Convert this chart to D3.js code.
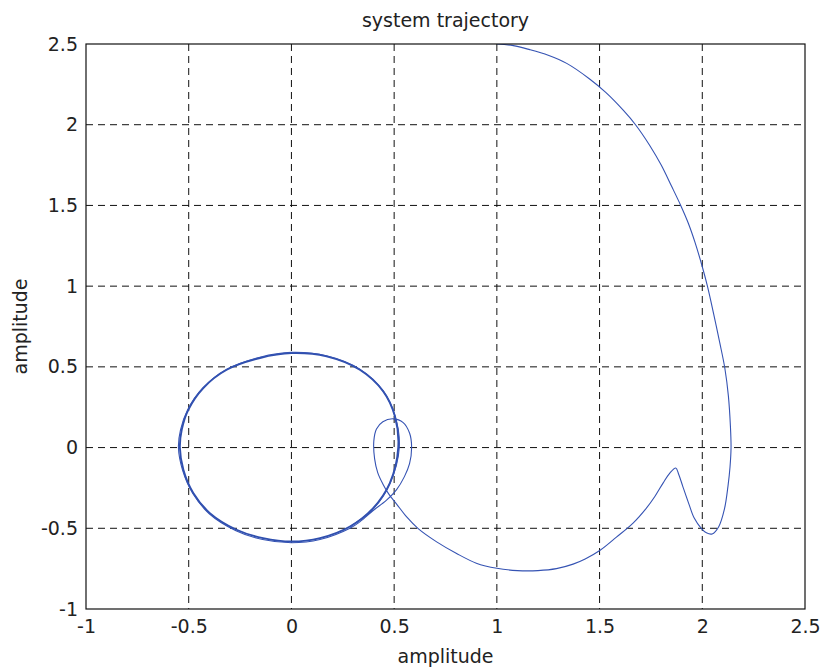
<!DOCTYPE html>
<html>
<head>
<meta charset="utf-8">
<script src="https://cdn.jsdelivr.net/npm/d3@7"></script>
<style>
  body { margin: 0; background: #fff; }
  text { font-family: "DejaVu Sans", sans-serif; fill: #222; }
</style>
</head>
<body>
<div id="chart"></div>
<script>
// chart size and plot box
var width = 823,
    height = 671,
    margin = { top: 44, right: 18, bottom: 62, left: 86 }

var xTicks = [-1, -0.5, 0, 0.5, 1, 1.5, 2, 2.5]
var yTicks = [-1, -0.5, 0, 0.5, 1, 1.5, 2, 2.5]
var xTickLabels = ['-1', '-0.5', '0', '0.5', '1', '1.5', '2', '2.5']
var yTickLabels = ['-1', '-0.5', '0', '0.5', '1', '1.5', '2', '2.5']

// trajectory: [x, y]
var trajectory = [
  [1.0, 2.5], [1.08, 2.49], [1.16, 2.465], [1.25, 2.43], [1.34, 2.38],
  [1.45, 2.285], [1.53, 2.2], [1.615, 2.09], [1.675, 2.0], [1.745, 1.87],
  [1.8, 1.75], [1.85, 1.62], [1.895, 1.5], [1.932, 1.39], [1.965, 1.27],
  [2.0, 1.12], [2.025, 1.0], [2.055, 0.83], [2.085, 0.65], [2.11, 0.49],
  [2.127, 0.32], [2.137, 0.13], [2.14, 0.0], [2.135, -0.12], [2.125, -0.24],
  [2.108, -0.38], [2.08, -0.49], [2.048, -0.535], [2.02, -0.528], [1.995, -0.5],
  [1.96, -0.435], [1.935, -0.35], [1.905, -0.24], [1.885, -0.165], [1.871, -0.127],
  [1.842, -0.158], [1.809, -0.22], [1.769, -0.303], [1.728, -0.375], [1.663, -0.468],
  [1.582, -0.555], [1.501, -0.638], [1.43, -0.69], [1.371, -0.722], [1.29, -0.75],
  [1.2, -0.762], [1.1, -0.762], [1.0, -0.748], [0.9, -0.716], [0.804, -0.656],
  [0.707, -0.584], [0.617, -0.502], [0.561, -0.43], [0.512, -0.35], [0.475, -0.29],
  [0.445, -0.225], [0.42, -0.155], [0.405, -0.07], [0.401, 0.04], [0.414, 0.115],
  [0.445, 0.16], [0.495, 0.178], [0.544, 0.155], [0.575, 0.09], [0.585, 0.005],
  [0.575, -0.1], [0.55, -0.18], [0.512, -0.26], [0.463, -0.325], [0.398, -0.39],
  [0.333, -0.46], [0.285, -0.5], [0.139, -0.57], [0.0, -0.59], [-0.14, -0.57],
  [-0.27, -0.515], [-0.4, -0.41], [-0.48, -0.285], [-0.53, -0.14], [-0.55, 0.0],
  [-0.54, 0.11], [-0.505, 0.235], [-0.43, 0.37], [-0.315, 0.485], [-0.153, 0.56],
  [0.0, 0.59], [0.171, 0.568], [0.333, 0.485], [0.447, 0.35], [0.505, 0.195],
  [0.525, 0.0], [0.48, -0.222], [0.4, -0.377], [0.286, -0.49]
]

// the settled cycle, traced a few times in the picture so it looks heavier
var limitCycle = [
  [0.001, 0.585], [0.171, 0.565], [0.333, 0.482], [0.447, 0.348], [0.504, 0.193],
  [0.52, 0.0], [0.479, -0.22], [0.398, -0.375], [0.285, -0.489], [0.139, -0.561],
  [0.001, -0.582], [-0.138, -0.561], [-0.267, -0.509], [-0.397, -0.406], [-0.478, -0.282],
  [-0.526, -0.138], [-0.543, 0.0], [-0.534, 0.11], [-0.502, 0.234], [-0.429, 0.369],
  [-0.315, 0.482], [-0.153, 0.555]
]

var innerW = width - margin.left - margin.right,
    innerH = height - margin.top - margin.bottom

var x = d3.scaleLinear().domain([-1, 2.5]).range([0, innerW])
var y = d3.scaleLinear().domain([-1, 2.5]).range([innerH, 0])

var svg = d3.select('#chart').append('svg')
    .attr('width', width)
    .attr('height', height)

var g = svg.append('g')
    .attr('transform', 'translate(' + margin.left + ',' + margin.top + ')')

// dashed grid
var grid = g.append('g').attr('class', 'grid')
grid.selectAll('line.vx')
    .data(xTicks.slice(1, -1))
    .enter().append('line')
    .attr('x1', function(d) { return x(d) }).attr('x2', function(d) { return x(d) })
    .attr('y1', 0).attr('y2', innerH)
grid.selectAll('line.hy')
    .data(yTicks.slice(1, -1))
    .enter().append('line')
    .attr('x1', 0).attr('x2', innerW)
    .attr('y1', function(d) { return y(d) }).attr('y2', function(d) { return y(d) })
grid.selectAll('line')
    .attr('stroke', '#111')
    .attr('stroke-width', 1)
    .attr('stroke-dasharray', '7,5')

// tick labels through d3 axes
var xAxis = d3.axisBottom(x).tickValues(xTicks).tickSize(0).tickPadding(11)
    .tickFormat(function(d, i) { return xTickLabels[i] })
var yAxis = d3.axisLeft(y).tickValues(yTicks).tickSize(0).tickPadding(8)
    .tickFormat(function(d, i) { return yTickLabels[i] })

var gx = g.append('g').attr('transform', 'translate(0,' + innerH + ')').call(xAxis)
var gy = g.append('g').call(yAxis)
;[gx, gy].forEach(function(a) {
  a.select('.domain').remove()
  a.selectAll('text')
    .style('font-family', '"DejaVu Sans", sans-serif')
    .style('font-size', '19px')
    .attr('fill', '#222')
})

// clip the curves to the plot box
svg.append('defs').append('clipPath').attr('id', 'clip')
  .append('rect').attr('width', innerW).attr('height', innerH)

var line = d3.line()
    .x(function(d) { return x(d[0]) })
    .y(function(d) { return y(d[1]) })

var plot = g.append('g').attr('clip-path', 'url(#clip)')

plot.append('path')
    .datum(limitCycle)
    .attr('d', line.curve(d3.curveCatmullRomClosed.alpha(0.5)))
    .attr('fill', 'none')
    .attr('stroke', '#2f4fae')
    .attr('stroke-width', 1.9)

plot.append('path')
    .datum(trajectory)
    .attr('d', line.curve(d3.curveCatmullRom.alpha(0.5)))
    .attr('fill', 'none')
    .attr('stroke', '#3553b3')
    .attr('stroke-width', 1.1)

// axes box
g.append('rect')
    .attr('width', innerW)
    .attr('height', innerH)
    .attr('fill', 'none')
    .attr('stroke', '#111')
    .attr('stroke-width', 1.2)

// title and axis labels
svg.append('text')
    .attr('x', margin.left + innerW / 2)
    .attr('y', 27)
    .attr('text-anchor', 'middle')
    .style('font-size', '19px')
    .text('system trajectory')

svg.append('text')
    .attr('x', margin.left + innerW / 2)
    .attr('y', 663)
    .attr('text-anchor', 'middle')
    .style('font-size', '19px')
    .text('amplitude')

svg.append('text')
    .attr('transform', 'translate(27,' + (margin.top + innerH / 2) + ') rotate(-90)')
    .attr('text-anchor', 'middle')
    .style('font-size', '19px')
    .text('amplitude')
</script>
</body>
</html>
